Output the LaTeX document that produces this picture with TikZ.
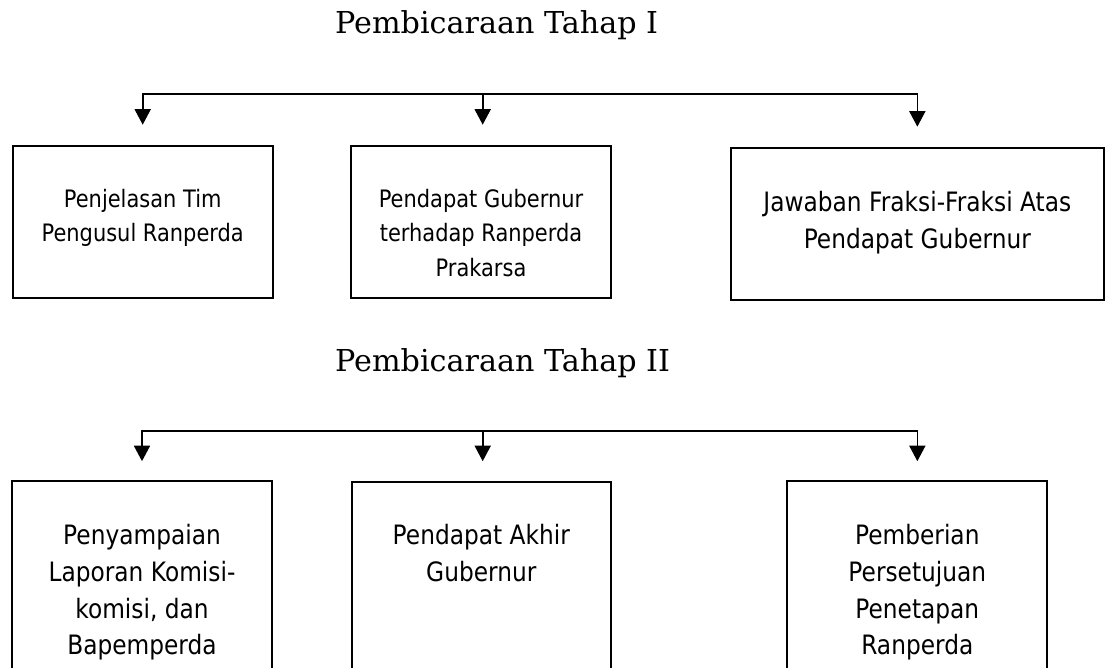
\documentclass[tikz,border=0pt]{standalone}
\usepackage{fontspec}
\usetikzlibrary{arrows.meta}
\newfontfamily\boxfont{DejaVu Sans}[FakeStretch=0.873]
\newfontfamily\titlefont{DejaVu Serif}
\newcommand{\fl}{\rule{0pt}{1em}}
\tikzset{
  boxnode/.style={draw, line width=2pt, inner sep=0pt, outer sep=0pt, anchor=north west},
  txt/.style={inner sep=0pt, outer sep=0pt, align=center, anchor=north},
  smalltxt/.style={txt, font=\boxfont\fontsize{24}{34.5}\selectfont},
  bigtxt/.style={txt, font=\boxfont\fontsize{26.67}{36.6}\selectfont},
  conn/.style={line width=1.7pt, line join=miter, -{Triangle[width=16pt,length=15.5pt]}},
  ttl/.style={font=\titlefont\fontsize{30.2}{36}\selectfont, anchor=base west, inner sep=0pt}
}
\begin{document}
\begin{tikzpicture}[x=1pt,y=-1pt]
\useasboundingbox (0,0) rectangle (1109,668);
\clip (0,0) rectangle (1109,668);

% titles
\node[ttl] (t1) at (335,33.3) {Pembicaraan Tahap I};
\node[ttl] (t2) at (335,371.7) {Pembicaraan Tahap II};

% top boxes
\node[boxnode, minimum width=260pt, minimum height=152.6pt] (b1) at (12.7,145.7) {};
\node[boxnode, minimum width=260pt, minimum height=152pt] (b2) at (351,145.7) {};
\node[boxnode, minimum width=373.3pt, minimum height=152.3pt] (b3) at (730.7,147.7) {};

\node[smalltxt] (x1) at (142.7,183.5) {\fl Penjelasan Tim\\Pengusul Ranperda};
\node[smalltxt] (x2) at (481,183.5) {\fl Pendapat Gubernur\\terhadap Ranperda\\Prakarsa};
\node[bigtxt] (x3) at (917.3,185.0) {\fl Jawaban Fraksi-Fraksi Atas\\Pendapat Gubernur};

% bottom boxes
\node[boxnode, minimum width=259.4pt, minimum height=260pt] (b4) at (12.3,480.7) {};
\node[boxnode, minimum width=259.3pt, minimum height=260pt] (b5) at (351.7,481.7) {};
\node[boxnode, minimum width=260pt, minimum height=260pt] (b6) at (787.3,480.7) {};

\node[bigtxt] (x4) at (142,518.3) {\fl Penyampaian\\Laporan Komisi-\\komisi, dan\\Bapemperda};
\node[bigtxt] (x5) at (481.3,518.3) {\fl Pendapat Akhir\\Gubernur};
\node[bigtxt] (x6) at (917.3,518.3) {\fl Pemberian\\Persetujuan\\Penetapan\\Ranperda};

% connectors, top
\coordinate (bus1) at (482.7,94.3);
\draw[conn, shorten >=21pt] (bus1) -| (b1.north);
\draw[conn, shorten >=21pt] (bus1) -| (b3.north);
\draw[conn, shorten >=21pt] (bus1) -- (bus1 |- b2.north);

% connectors, bottom
\coordinate (bus2) at (482.7,430.7);
\draw[conn, shorten >=19.5pt] (bus2) -| (b4.north);
\draw[conn, shorten >=19.5pt] (bus2) -| (b3.north |- b6.north);
\draw[conn, shorten >=20.5pt] (bus2) -- (bus2 |- b5.north);
\end{tikzpicture}
\end{document}
